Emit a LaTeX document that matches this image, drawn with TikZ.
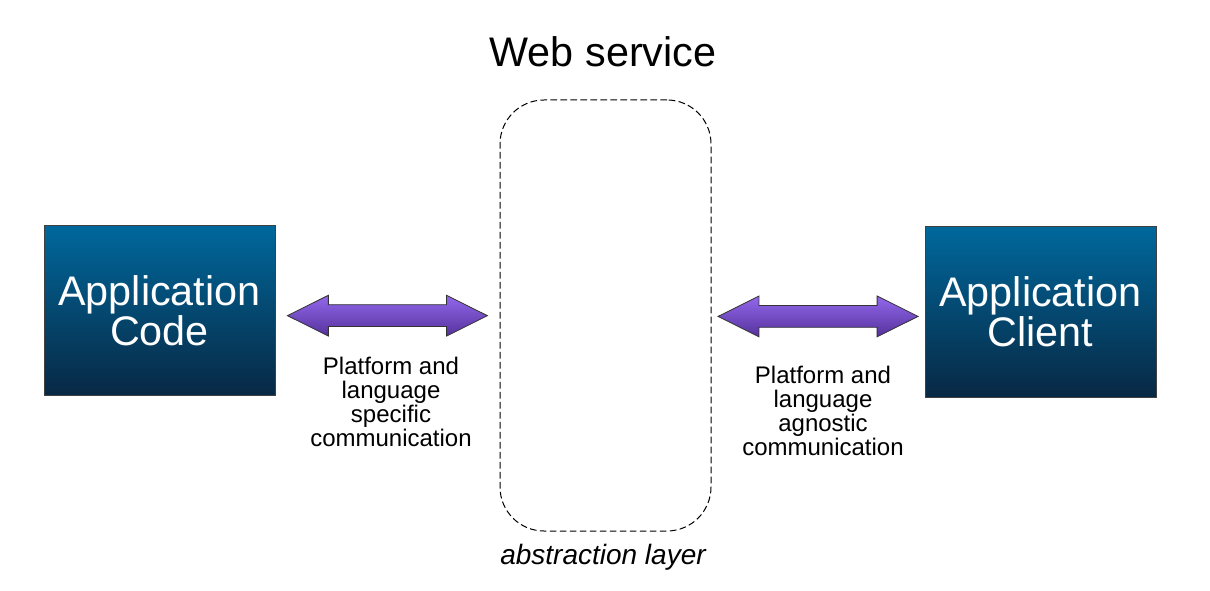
\documentclass[tikz,border=0pt]{standalone}
\usepackage{fontspec}
\setmainfont{Liberation Sans}
\usetikzlibrary{shapes.arrows,calc}
\definecolor{boxtop}{RGB}{0,104,156}
\definecolor{boxbot}{RGB}{8,40,68}
\definecolor{arrtop}{RGB}{146,104,236}
\definecolor{arrbot}{RGB}{86,50,156}
\begin{document}
\begin{tikzpicture}[x=0.75pt,y=-0.75pt,
   appbox/.style={draw=black!75, line width=0.6pt, top color=boxtop, bottom color=boxbot,
      minimum width=173.25pt, minimum height=128pt, inner sep=0pt, text=white,
      align=center, font=\fontsize{31}{30}\selectfont},
   linkarrow/.style={double arrow, draw=black!80, line width=0.6pt, top color=arrtop,
      bottom color=arrbot, minimum height=150pt, inner xsep=0pt, inner ysep=7.9pt,
      double arrow head extend=7.1pt, double arrow tip angle=53, yshift=-2pt},
   linklabel/.style={align=center, font=\fontsize{18}{18}\selectfont}]
   \useasboundingbox (0,0) rectangle (1210,591);
   % the web service layer
   \node[draw, dashed, dash pattern=on 5pt off 2.5pt, line width=0.75pt, rounded corners=33pt,
      minimum width=158.25pt, minimum height=323.25pt] (layer) at (605.5,315.5) {};
   \node[font=\fontsize{31}{31}\selectfont] (title) at (603,52) {Web service};
   \node[font=\fontsize{21}{21}\selectfont\itshape] (abstr) at (603,557) {abstraction layer};
   % the two applications
   \node[appbox] (code) at (159.5,310.5) {Application\\Code};
   \node[appbox] (client) at (1040.5,312) {Application\\Client};
   % arrows between them
   \node[linkarrow] (arrL) at ($(code.east)!0.5!(layer.west)$) {};
   \node[linkarrow] (arrR) at ($(layer.east)!0.5!(client.west)$) {};
   \node[linklabel] (labL) at (391,401.5) {Platform and\\language\\specific\\communication};
   \node[linklabel] (labR) at (823,410.5) {Platform and\\language\\agnostic\\communication};
\end{tikzpicture}
\end{document}
